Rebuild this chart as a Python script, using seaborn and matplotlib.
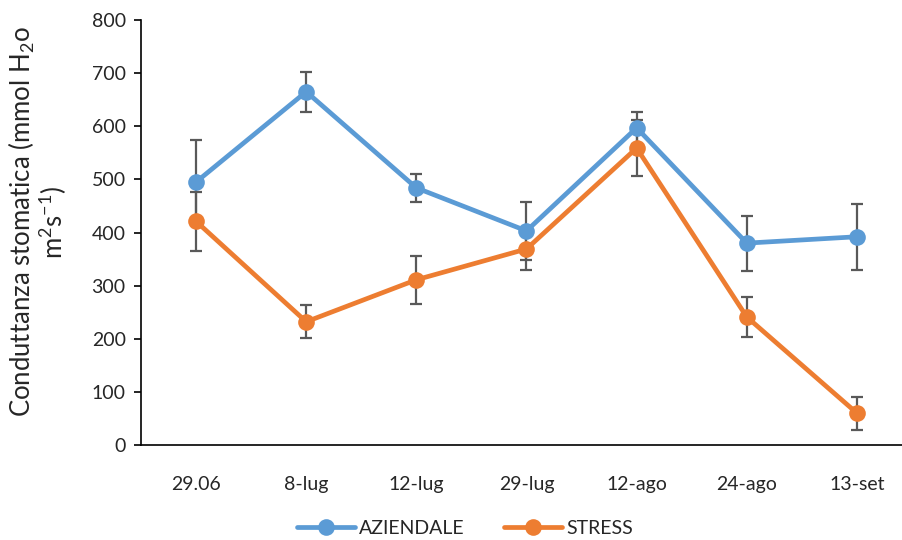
import matplotlib
matplotlib.use("Agg")
import matplotlib.pyplot as plt
from matplotlib.lines import Line2D
import seaborn as sns
import numpy as np
import pandas as pd

# dati
date = ['29.06', '8-lug', '12-lug', '29-lug', '12-ago', '24-ago', '13-set']
aziendale = [495, 665, 484, 403, 597, 380, 392]
aziendale_err = [80, 38, 27, 55, 30, 52, 62]
stress = [421, 232, 311, 369, 559, 241, 60]
stress_err = [55, 31, 45, 39, 52, 38, 31]

colori = {'AZIENDALE': '#5B9BD5', 'STRESS': '#ED7D31'}

df = pd.DataFrame({
    'x': list(range(len(date))) * 2,
    'valore': aziendale + stress,
    'tesi': ['AZIENDALE'] * len(date) + ['STRESS'] * len(date),
})

sns.set_style('white')
plt.rcParams['font.family'] = ['Lato', 'DejaVu Sans']
plt.rcParams['mathtext.fontset'] = 'custom'
plt.rcParams['mathtext.rm'] = 'Lato'
plt.rcParams['mathtext.it'] = 'Lato'

fig = plt.figure(figsize=(9.03, 5.40), dpi=100)
ax = fig.add_axes([141 / 903, 95 / 540, 771 / 903, 425 / 540])

# barre d'errore (sotto le linee)
x = np.arange(len(date))
for vals, errs in [(aziendale, aziendale_err), (stress, stress_err)]:
    ax.errorbar(x, vals, yerr=errs, fmt='none', ecolor='#595959',
                elinewidth=1.6, capsize=4.5, capthick=1.6, zorder=1)

sns.lineplot(data=df, x='x', y='valore', hue='tesi', palette=colori,
             marker='o', markersize=12, markeredgewidth=0, linewidth=3.4,
             ax=ax, zorder=3, legend=False)

ax.set_xlim(-0.5, len(date) - 0.5)
ax.set_ylim(0, 800)
ax.set_yticks(range(0, 801, 100))
ax.set_xticks(x)
ax.set_xticklabels(date)
ax.set_xticks(np.arange(-0.5, len(date), 1), minor=True)
ax.tick_params(axis='x', which='major', length=0, pad=22, labelsize=14)
ax.tick_params(axis='x', which='minor', direction='in', length=7,
               width=1.2, color='black')
ax.tick_params(axis='y', direction='out', length=5, width=1.2,
               color='black', labelsize=14, pad=6, left=True)

for s in ['top', 'right']:
    ax.spines[s].set_visible(False)
for s in ['left', 'bottom']:
    ax.spines[s].set_color('black')
    ax.spines[s].set_linewidth(1.2)

ax.set_xlabel('')
ax.set_ylabel('Conduttanza stomatica (mmol H$_2$o\nm$^2$s$^{\\mathrm{-}1}$)',
              fontsize=18.5, linespacing=1.0)
ax.yaxis.set_label_coords(-0.094, 0.525)

handles = [Line2D([], [], color=c, linewidth=3.4, marker='o', markersize=12,
                  markeredgewidth=0) for c in colori.values()]
fig.legend(handles, list(colori.keys()), loc='center',
           bbox_to_anchor=(465 / 903, 1 - 528 / 540),
           ncol=2, frameon=False, fontsize=14, handlelength=3.0,
           columnspacing=2.0, handletextpad=0.2, borderpad=0)

plt.savefig('out.png', dpi=100)
plt.close()
